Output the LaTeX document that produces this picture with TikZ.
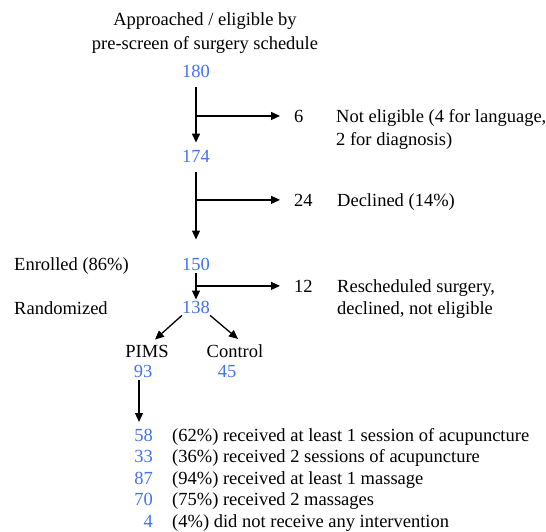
\documentclass[tikz,border=0pt]{standalone}
\usepackage{fontspec}
\setmainfont{Liberation Serif}
\usetikzlibrary{arrows.meta}
\definecolor{numblue}{RGB}{66,114,240}
\tikzset{
  every node/.style={inner sep=0pt, font=\fontsize{18.5}{23}\selectfont},
  num/.style={text=numblue, anchor=base},
  flow/.style={line width=1.3pt, -{Triangle[length=9pt,width=8pt]}},
}

\begin{document}
\begin{tikzpicture}[x=1pt, y=-1pt]
  \useasboundingbox (0,0) rectangle (546,531);
  % main column of counts
  \node[anchor=north, align=center, font=\fontsize{18.5}{24}\selectfont] (title) at (205,12) {Approached / eligible by\\pre-screen of surgery schedule};
  \node[num] (n180) at (196,77) {180};
  \node[num] (n174) at (196,162) {174};
  \node[num] (n150) at (196,270) {150};
  \node[num] (n138) at (196,313) {138};
  \node[anchor=base west] (enrolled) at (14,270) {Enrolled (86\%)};
  \node[anchor=base west] (randomized) at (14,314) {Randomized};
  % drop-outs on the right
  \node[anchor=base west] (o6) at (294,122) {6};
  \node[anchor=north west, align=left] (notelig) at (336,109) {Not eligible (4 for language,\\2 for diagnosis)};
  \node[anchor=base west] (o24) at (294,206) {24};
  \node[anchor=base west] (declined) at (337,206) {Declined (14\%)};
  \node[anchor=base west] (o12) at (294,292) {12};
  \node[anchor=north west, align=left, font=\fontsize{18.5}{22}\selectfont] (resched) at (337,279) {Rescheduled surgery,\\declined, not eligible};
  % the two arms
  \node[anchor=base] (pims) at (147,357) {PIMS};
  \node[anchor=base] (control) at (235,357) {Control};
  \node[num] (n93) at (143,377) {93};
  \node[num] (n45) at (227,377) {45};
  \coordinate (listtop) at (139,422);
  \foreach \cnt/\txt [count=\i] in {58/(62\%) received at least 1 session of acupuncture,
      33/(36\%) received 2 sessions of acupuncture,
      87/(94\%) received at least 1 massage,
      70/(75\%) received 2 massages,
      4/(4\%) did not receive any intervention} {
    \node[num, anchor=base east] (c\i) at (153,{441+21.65*(\i-1)}) {\cnt};
    \node[anchor=base west] (r\i) at (172,{441+21.65*(\i-1)}) {\txt};
  }
  % connectors
  \draw[flow, shorten <=10pt, shorten >=7pt] (n180) -- (n174);
  \draw[flow, shorten <=10pt, shorten >=18pt] (n174) -- (n150);
  \draw[flow, shorten <=3pt, shorten >=1pt] (n150) -- (n138);
  \draw[flow, shorten >=14pt] (n180 |- o6.west) -- (o6.west);
  \draw[flow, shorten >=14pt] (n174 |- o24.west) -- (o24.west);
  \draw[flow, shorten >=14pt] (n150 |- o12.west) -- (o12.west);
  \draw[flow] ([yshift=-2pt]n138.south west) -- ([xshift=8pt, yshift=5pt]pims.north);
  \draw[flow] ([yshift=-2pt]n138.south east) -- ([xshift=3pt, yshift=5pt]control.north);
  \draw[flow, shorten <=3pt] (n93.south -| listtop) -- (listtop);
\end{tikzpicture}
\end{document}
